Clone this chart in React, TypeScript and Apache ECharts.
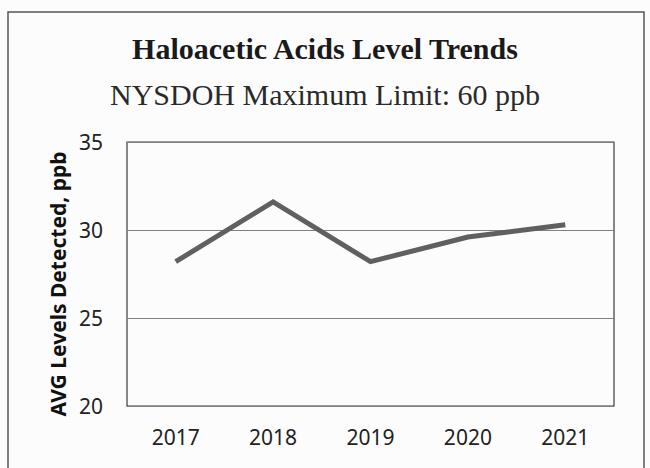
import React, { useEffect, useRef } from "react";
import * as echarts from "echarts";

const years = ["2017", "2018", "2019", "2020", "2021"];
const avgLevels = [28.2, 31.6, 28.2, 29.6, 30.3];
const yTicks = { min: 20, max: 35, interval: 5 };
const titleText = "Haloacetic Acids Level Trends";
const subtitleText = "NYSDOH Maximum Limit: 60 ppb";
const yAxisName = "AVG Levels Detected, ppb";

export default function App() {
  const ref = useRef<HTMLDivElement>(null);
  useEffect(() => {
    document.body.style.margin = "0";
    document.body.style.background = "#ffffff";
    const chart = echarts.init(ref.current!, null, { renderer: "svg" });
    chart.setOption({
      animation: false,
      backgroundColor: "#fcfcfc",
      title: [
        {
          text: titleText,
          left: "center",
          top: 28,
          textStyle: {
            fontFamily: "Liberation Serif",
            fontWeight: "bold",
            fontSize: 30,
            color: "#1a1a1a",
          },
        },
        {
          text: subtitleText,
          left: "center",
          top: 74,
          textStyle: {
            fontFamily: "Liberation Serif",
            fontWeight: "normal",
            fontSize: 30,
            color: "#2a2a2a",
          },
        },
      ],
      graphic: [
        {
          type: "rect",
          shape: { x: 8, y: 12, width: 636, height: 470 },
          style: { fill: "none", stroke: "#555", lineWidth: 1.5 },
          silent: true,
        },
        {
          type: "text",
          x: 58,
          y: 284,
          rotation: Math.PI / 2,
          style: {
            text: yAxisName,
            fontFamily: "Noto Sans",
            fontWeight: "bold",
            fontSize: 21,
            fill: "#111",
            align: "center",
            verticalAlign: "middle",
          },
          silent: true,
        },
      ],
      grid: {
        left: 127,
        right: 36,
        top: 142,
        bottom: 62,
        show: true,
        borderColor: "#3a3a3a",
        borderWidth: 1.2,
      },
      xAxis: {
        type: "category",
        data: years,
        boundaryGap: true,
        axisLine: { show: false },
        axisTick: { show: false },
        axisLabel: {
          fontFamily: "Noto Sans",
          fontSize: 21,
          color: "#222",
          margin: 20,
        },
      },
      yAxis: {
        type: "value",
        min: yTicks.min,
        max: yTicks.max,
        interval: yTicks.interval,
        axisLine: { show: false },
        axisTick: { show: false },
        axisLabel: {
          fontFamily: "Noto Sans",
          fontSize: 21,
          color: "#222",
          margin: 24,
        },
        splitLine: { lineStyle: { color: "#808080", width: 1 } },
      },
      series: [
        {
          type: "line",
          data: avgLevels,
          symbol: "none",
          lineStyle: { color: "#606060", width: 5, join: "miter" },
        },
      ],
    });
    return () => chart.dispose();
  }, []);
  return <div ref={ref} style={{ width: 650, height: 468 }} />;
}
